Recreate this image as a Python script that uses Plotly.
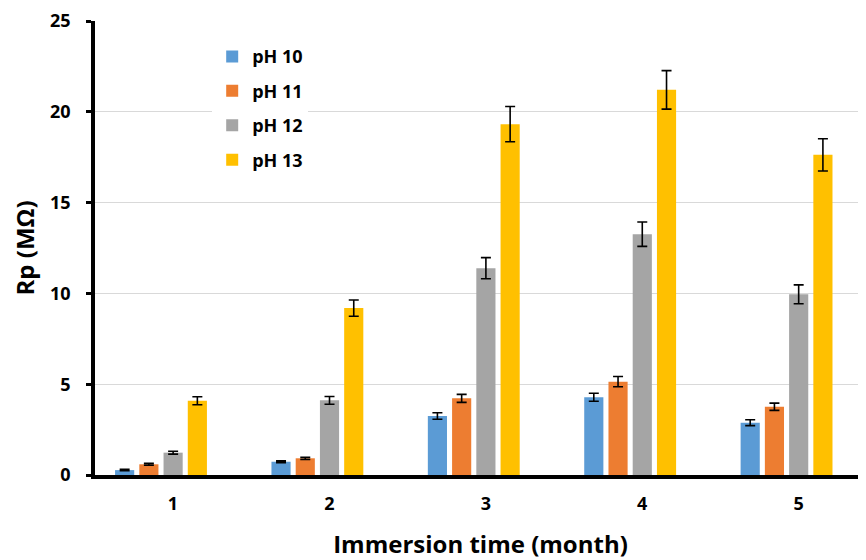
import plotly.graph_objects as go

months = [1, 2, 3, 4, 5]
tick_labels = ["1", "2", "3", "4", "5"]
series_names = ["pH 10", "pH 11", "pH 12", "pH 13"]
ph10 = [0.27, 0.73, 3.25, 4.28, 2.88]
ph10_err = [0.04, 0.05, 0.18, 0.22, 0.16]
ph11 = [0.59, 0.92, 4.22, 5.14, 3.76]
ph11_err = [0.05, 0.06, 0.22, 0.28, 0.20]
ph12 = [1.23, 4.11, 11.39, 13.26, 9.95]
ph12_err = [0.08, 0.21, 0.58, 0.67, 0.52]
ph13 = [4.09, 9.19, 19.32, 21.21, 17.63]
ph13_err = [0.22, 0.45, 0.97, 1.06, 0.89]
colors = ["#5B9BD5", "#ED7D31", "#A5A5A5", "#FFC000"]

FONT = "Open Sans"
fig = go.Figure()
for name, vals, errs, col in zip(series_names, [ph10, ph11, ph12, ph13],
                                 [ph10_err, ph11_err, ph12_err, ph13_err], colors):
    fig.add_trace(go.Bar(
        x=months, y=vals, name=name, marker=dict(color=col, line=dict(width=0)),
        legendgroup=name,
        error_y=dict(type="data", array=errs, visible=True, color="#000000",
                     thickness=1.6, width=5),
    ))

fig.update_layout(
    width=858, height=552,
    margin=dict(l=86.5, r=0, t=13, b=84.5),
    paper_bgcolor="white", plot_bgcolor="white",
    barmode="group", bargap=0.38, bargroupgap=0.21,
    font=dict(family=FONT, color="#000000"),
    showlegend=True,
    legend=dict(x=0.152, y=0.962, xanchor="left", yanchor="top",
                bgcolor="white",
                font=dict(family=FONT, size=18, color="#000", weight="bold"),
                tracegroupgap=8, itemwidth=30),
    xaxis=dict(
        range=[0.578, 5.508], tickmode="array", tickvals=months, ticktext=tick_labels,
        showgrid=False, zeroline=False, showline=True, linecolor="#000", linewidth=3.5,
        ticks="", ticklabelshift=12, ticklabelstandoff=10, automargin=False,
        tickfont=dict(family=FONT, size=18, color="#000", weight="bold"),
        title=dict(text="<b>Immersion time (month)</b>", standoff=23,
                   font=dict(family=FONT, size=24, color="#000")),
    ),
    yaxis=dict(
        range=[0, 25], dtick=5, tickmode="linear", tick0=0,
        showgrid=True, gridcolor="#D9D9D9", gridwidth=1.2,
        zeroline=False, showline=True, linecolor="#000", linewidth=3.5,
        ticks="outside", ticklen=5, tickwidth=3, tickcolor="#000",
        ticklabelstandoff=12, automargin=False,
        tickfont=dict(family=FONT, size=18, color="#000", weight="bold"),
        title=dict(text="<b>Rp (MΩ)</b>", standoff=14,
                   font=dict(family=FONT, size=24, color="#000")),
    ),
)
fig.write_html("out.html")
